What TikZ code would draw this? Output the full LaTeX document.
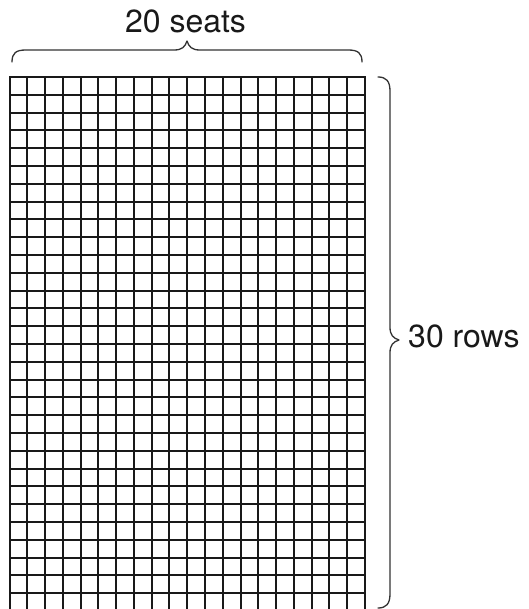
\documentclass[tikz,border=0pt]{standalone}
\usepackage{fontspec}
\setmainfont{TeX Gyre Heros}
\tikzset{
  gridline/.style={line width=1.6pt, draw=black!90},
  bracepath/.style={line width=1.3pt, draw=black!80, line join=round, line cap=round},
  labeltext/.style={inner sep=0pt, font=\fontsize{32}{36}\selectfont, text=black!90}
}
\begin{document}
\begin{tikzpicture}[x=1pt,y=-1pt]
\useasboundingbox (0,0) rectangle (528,609);
% seat grid, 20 columns x 30 rows (bottom row cut off by the picture edge)
\begin{scope}
\clip (0,0) rectangle (528,609);
\foreach \i in {0,...,20} {
  \pgfmathsetmacro{\gx}{round(9.5+\i*17.775)}
  \draw[gridline] (\gx,76.2) -- (\gx,640);
}
\foreach \j in {0,...,29} {
  \pgfmathsetmacro{\gy}{round(77+\j*17.8)}
  \draw[gridline] (9.2,\gy) -- (365.8,\gy);
}
\end{scope}
% top brace
\coordinate (tb1) at (12,62);
\coordinate (tbtip) at (187,41);
\coordinate (tb2) at (362,62);
\draw[bracepath] (tb1) .. controls (12,53) and (16,50) .. (26,50)
  -- (174,50) .. controls (182,50) and (185,47) .. (tbtip)
  .. controls (189,47) and (192,50) .. (200,50)
  -- (348,50) .. controls (358,50) and (362,53) .. (tb2);
% right brace
\coordinate (rb1) at (378,77);
\coordinate (rbtip) at (399,340);
\coordinate (rb2) at (378,608);
\draw[bracepath] (rb1) .. controls (386,77) and (390,81) .. (390,91)
  -- (390,327) .. controls (390,335) and (393,338) .. (rbtip)
  .. controls (393,342) and (390,345) .. (390,353)
  -- (390,594) .. controls (390,604) and (386,608) .. (rb2);
% labels
\node[labeltext, anchor=base] (seats) at (185.5,32.5) {20 seats};
\node[labeltext, anchor=base west] (rows) at (408,347) {30 rows};
\end{tikzpicture}
\end{document}
